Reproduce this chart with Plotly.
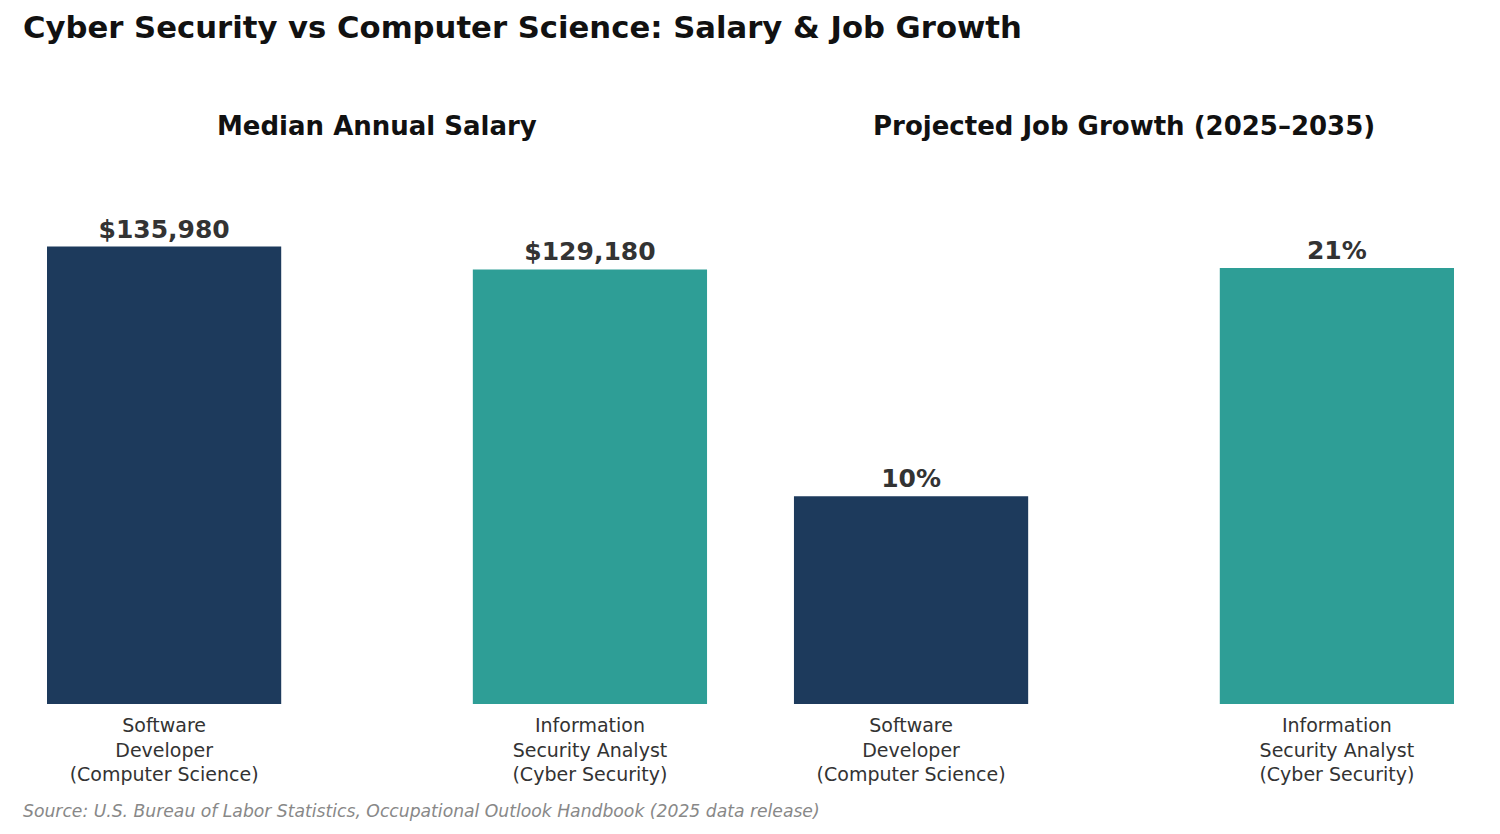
import plotly.graph_objects as go
from plotly.subplots import make_subplots

# data
roles = ["Software<br>Developer<br>(Computer Science)",
         "Information<br>Security Analyst<br>(Cyber Security)"]
salary = [135980, 129180]
growth = [10, 21]
salary_labels = ["<b>$135,980</b>", "<b>$129,180</b>"]
growth_labels = ["<b>10%</b>", "<b>21%</b>"]
colores = ["#1d3a5c", "#2e9e96"]

pos = [0, 1]
font = "DejaVu Sans"

# plot area in page pixels (page has 8px offset)
L, R, T, B = 6, 1479, 170, 696


def px(x):
    return (x - 8 - L) / (R - L)


def py(y):
    return (B - (y - 8)) / (B - T)


fig = make_subplots(rows=1, cols=2, horizontal_spacing=0.0142)

fig.add_trace(go.Bar(x=pos, y=salary, width=0.55, marker_color=colores,
                     marker_line_width=0, text=salary_labels,
                     textposition="outside", cliponaxis=False,
                     textfont=dict(family=font, size=25, color="#333333")),
              row=1, col=1)
fig.add_trace(go.Bar(x=pos, y=growth, width=0.55, marker_color=colores,
                     marker_line_width=0, text=growth_labels,
                     textposition="outside", cliponaxis=False,
                     textfont=dict(family=font, size=25, color="#333333")),
              row=1, col=2)

for c in (1, 2):
    fig.update_xaxes(range=[-0.3525, 1.3525], tickvals=pos, ticktext=roles,
                     showgrid=False, zeroline=False, showline=False,
                     ticks="", ticklabelstandoff=8,
                     tickfont=dict(family=font, size=19, color="#333333"),
                     row=1, col=c)
fig.update_yaxes(visible=False, range=[0, 135980 * 1.15], row=1, col=1)
fig.update_yaxes(visible=False, range=[0, 25.33], row=1, col=2)

fig.update_layout(
    width=1500, height=834,
    margin=dict(l=L, r=1500 - R, t=T, b=834 - B),
    plot_bgcolor="white", paper_bgcolor="white",
    showlegend=False,
    font=dict(family=font),
    title=dict(text="<b>Cyber Security vs Computer Science: Salary & Job Growth</b>",
               x=15 / 1500, xanchor="left", y=1 - 19 / 834, yanchor="middle",
               font=dict(family=font, size=30.7, color="#111111")),
)

fig.add_annotation(text="<b>Median Annual Salary</b>", x=px(377), y=py(126),
                   xref="paper", yref="paper", showarrow=False,
                   xanchor="center", yanchor="middle",
                   font=dict(family=font, size=26, color="#111111"))
fig.add_annotation(text="<b>Projected Job Growth (2025–2035)</b>", x=px(1124), y=py(126),
                   xref="paper", yref="paper", showarrow=False,
                   xanchor="center", yanchor="middle",
                   font=dict(family=font, size=26, color="#111111"))
fig.add_annotation(text="<i>Source: U.S. Bureau of Labor Statistics, Occupational Outlook Handbook (2025 data release)</i>",
                   x=px(21), y=py(811), xref="paper", yref="paper",
                   xanchor="left", yanchor="middle", showarrow=False,
                   font=dict(family=font, size=17.2, color="#888888"))

fig.write_html("out.html")
